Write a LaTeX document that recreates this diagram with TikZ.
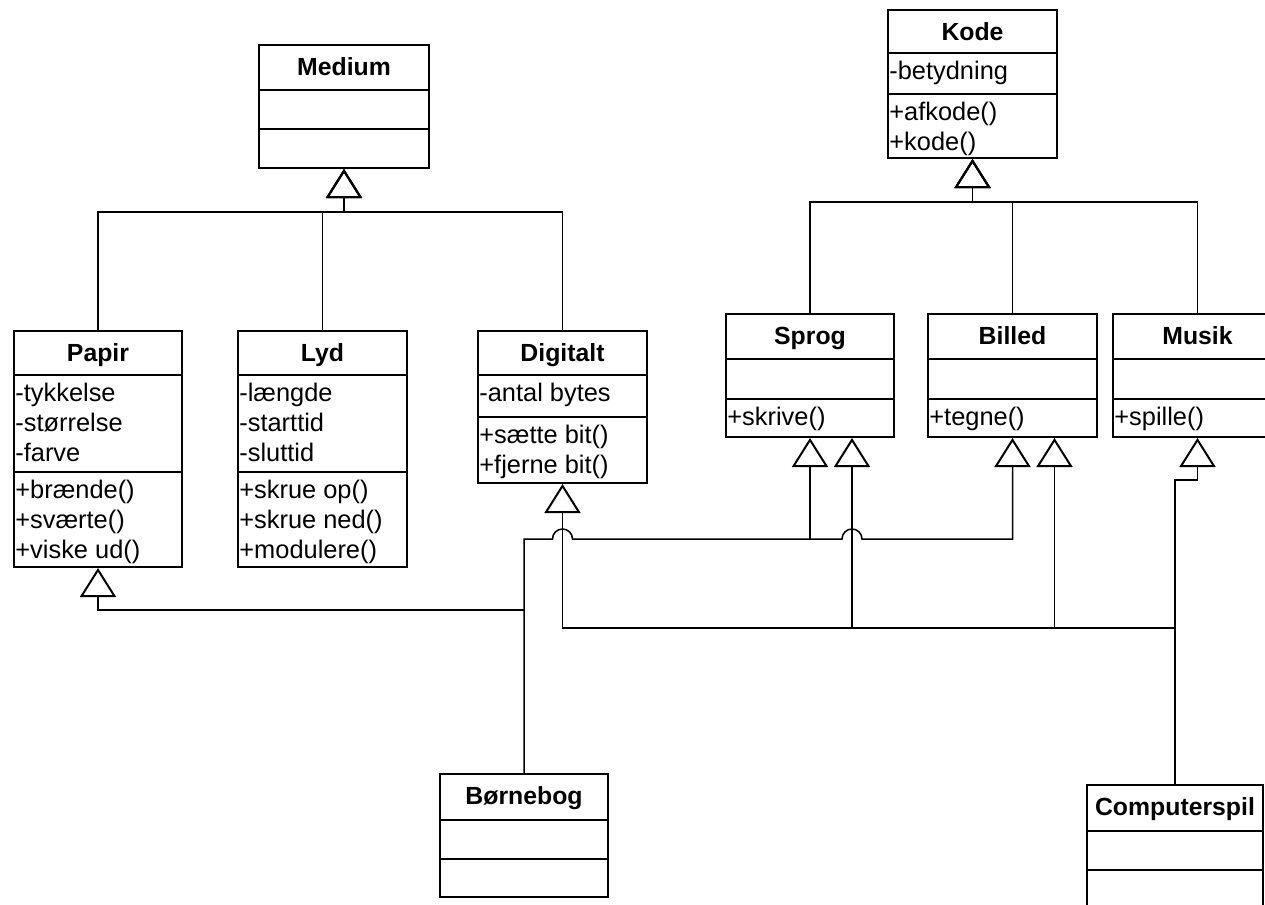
\documentclass[tikz,border=0pt]{standalone}
\usepackage{fontspec}
\setmainfont{Liberation Sans}
\usetikzlibrary{arrows.meta,fit}

\newcommand{\umlfont}{\fontsize{12.4}{15}\selectfont}
\newcommand{\rowfont}{\fontsize{12.7}{15}\selectfont}

\tikzset{
  classbox/.style={draw, line width=1pt, inner sep=0pt},
  divider/.style={line width=1pt},
  classtitle/.style={anchor=base, inner sep=0pt, font=\umlfont\bfseries},
  member/.style={anchor=base west, inner sep=0pt, font=\rowfont},
  gen/.style={line width=0.75pt, -{Triangle[open, length=14.5pt, width=18pt, line width=1pt]}},
}

% name, left, top, right, first divider, second divider, bottom, title
\newcommand{\umlclass}[8]{%
  \node[classbox, fit={(#2,#3) (#4,#7)}] (#1) {};
  \draw[divider] (#2,#5) -- (#4,#5) (#2,#6) -- (#4,#6);
  \node[classtitle] (#1-title) at ({(#2+#4)/2},{#3+30}) {#8};
}
% left, top of compartment, list of rows
\newcommand{\umlrows}[3]{%
  \foreach \row [count=\i] in {#3} {
    \node[member] at ({#1+1},{#2-3.5+30*\i}) {\row};
  }
}

\begin{document}
\begin{tikzpicture}[x=0.5pt, y=-0.5pt]
\clip (0,0) rectangle (1265,905);
\fill[white] (0,0) rectangle (1265,905);

% classes
\umlclass{medium}{259}{45}{429}{90}{129}{168}{Medium}
\umlclass{kode}{888}{10}{1057}{53}{94}{158}{Kode}
\umlrows{888}{53}{-betydning}
\umlrows{888}{94}{+afkode(),+kode()}

\umlclass{papir}{14}{331}{182}{375}{472}{567}{Papir}
\umlrows{14}{375}{-tykkelse,-størrelse,-farve}
\umlrows{14}{472}{+brænde(),+sværte(),+viske ud()}

\umlclass{lyd}{238}{331}{407}{375}{472}{567}{Lyd}
\umlrows{238}{375}{-længde,-starttid,-sluttid}
\umlrows{238}{472}{+skrue op(),+skrue ned(),+modulere()}

\umlclass{digitalt}{478}{331}{647}{375}{417}{483}{Digitalt}
\umlrows{478}{375}{-antal bytes}
\umlrows{478}{417}{+sætte bit(),+fjerne bit()}

\umlclass{sprog}{726}{314}{894}{359}{399}{437}{Sprog}
\umlrows{726}{399}{+skrive()}
\umlclass{billed}{928}{314}{1097}{359}{399}{437}{Billed}
\umlrows{928}{399}{+tegne()}
\umlclass{musik}{1113}{314}{1282}{359}{399}{437}{Musik}
\umlrows{1113}{399}{+spille()}

\umlclass{bog}{440}{774}{608}{820}{859}{897}{Børnebog}
\umlclass{spil}{1087}{785}{1263}{831}{870}{910}{Computerspil}

% helper coordinates
\coordinate (mbus) at ([yshift=-21.5pt]medium.south);
\coordinate (kbus) at ([yshift=-21.5pt]kode.south);
\coordinate (sprog2) at ([xshift=21pt]sprog.south);
\coordinate (billed2) at ([xshift=21pt]billed.south);
\coordinate (row1) at (0,539);
\coordinate (row2) at (0,610);
\coordinate (row3) at (0,628);
\coordinate (jog) at (0,480);

% Medium hierarchy
\draw[gen] (papir.north) |- (mbus) -- (medium.south);
\draw[gen] (lyd.north) |- (mbus) -- (medium.south);
\draw[gen] (digitalt.north) |- (mbus) -- (medium.south);

% Kode hierarchy
\draw[gen] (sprog.north) |- (kbus) -- (kode.south);
\draw[gen] (billed.north) |- (kbus) -- (kode.south);
\draw[gen] (musik.north) |- (kbus) -- (kode.south);

% Børnebog
\coordinate (bj1) at (bog.north |- row1);
\coordinate (bj2) at (bog.north |- row2);
\coordinate (hop1) at ([xshift=-5pt]digitalt.south |- row1);
\coordinate (hop2) at ([xshift=-5pt]sprog2 |- row1);
\draw[gen] (bog.north) -- (bj1) -- (hop1)
  arc[start angle=180, end angle=0, radius=5pt] -- (hop2)
  arc[start angle=180, end angle=0, radius=5pt] -- (billed.south |- row1) -- (billed.south);
\draw[gen] (sprog.south |- row1) -- (sprog.south);
\draw[gen] (bj2) -| (papir.south);

% Computerspil
\coordinate (sj) at (spil.north |- row3);
\draw[gen] (spil.north) -- (spil.north |- jog) -- (musik.south |- jog) -- (musik.south);
\draw[gen] (sj) -| (digitalt.south);
\draw[gen] (sprog2 |- row3) -- (sprog2);
\draw[gen] (billed2 |- row3) -- (billed2);
\end{tikzpicture}
\end{document}
